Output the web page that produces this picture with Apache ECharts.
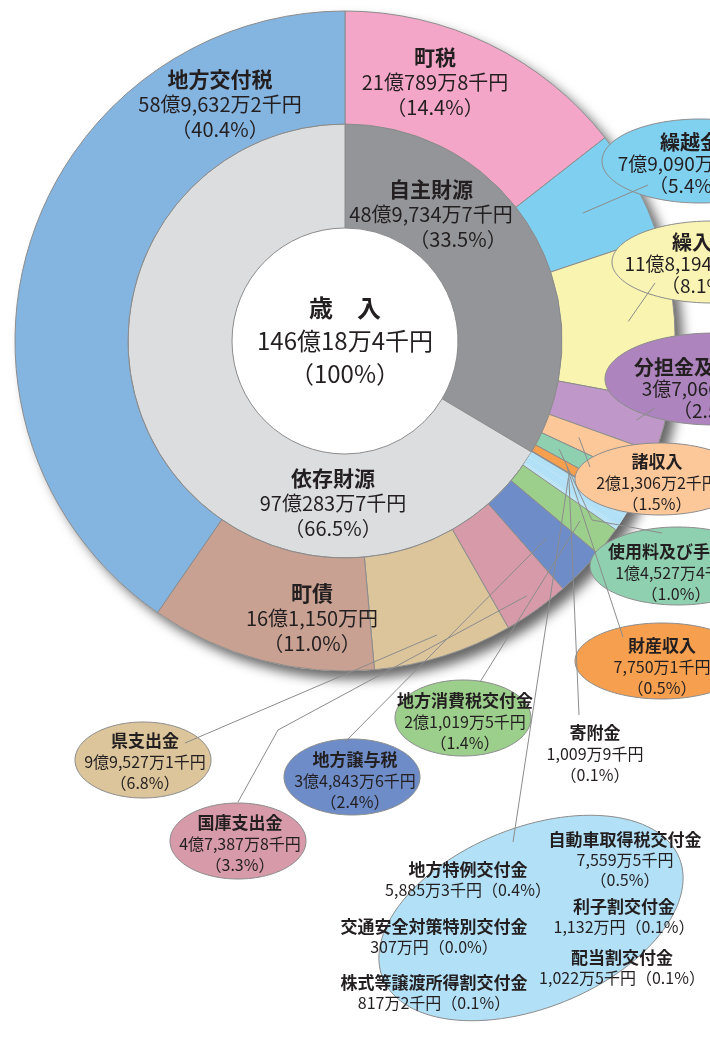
<!DOCTYPE html>
<html lang="ja">
<head>
<meta charset="utf-8">
<title>歳入</title>
<style>
  html, body { margin: 0; padding: 0; background: #fff; }
  #main { width: 710px; height: 1055px; }
</style>
<script src="https://cdn.jsdelivr.net/npm/echarts@6/dist/echarts.min.js"></script>
</head>
<body>
<div id="main"></div>
<script>
// 歳入の内訳（単位：千円）
var outerNames = ['町税', '繰越金', '繰入金', '分担金及び負担金', '諸収入', '使用料及び手数料', '財産収入', '寄附金',
  '地方特例交付金', '自動車取得税交付金', '利子割交付金', '交通安全対策特別交付金', '配当割交付金', '株式等譲渡所得割交付金',
  '地方消費税交付金', '地方譲与税', '国庫支出金', '県支出金', '町債', '地方交付税'];
var outerValues = [2107898, 790903, 1181946, 370664, 213062, 145274, 77501, 10099,
  58853, 75595, 11320, 3070, 10225, 8172,
  210195, 348436, 473878, 995271, 1611500, 5896322];
var outerPcts = [14.4, 5.4, 8.1, 2.5, 1.5, 1.0, 0.5, 0.1,
  0.4, 0.5, 0.1, 0.0, 0.1, 0.1,
  1.4, 2.4, 3.3, 6.8, 11.0, 40.4];

var innerNames = ['自主財源', '依存財源'];
var innerValues = [4897347, 9702837];
var innerPcts = [33.5, 66.5];

var centerTitle = '歳　入';

// 見た目
var CX = 345, CY = 341, R0 = 113, R1 = 217, R2 = 330;
var FONT = '"Noto Sans CJK JP", "Noto Sans CJK SC", sans-serif';
var INK = '#231f20';
var EDGE = '#8c8c8c';

var sliceColor = {
  '町税': '#f4a6c8', '繰越金': '#7fd0f0', '繰入金': '#f9f4b0', '分担金及び負担金': '#bf98c9',
  '諸収入': '#fcc899', '使用料及び手数料': '#8fd0b1', '財産収入': '#f6a04f', '寄附金': '#959595',
  '地方消費税交付金': '#9ccf8c', '地方譲与税': '#6d8cc8', '国庫支出金': '#d69aa8', '県支出金': '#dcc59b',
  '町債': '#c8a192', '地方交付税': '#84b4e0'
};
var groupColor = '#b2e0f6';
var innerColor = ['#939598', '#dcdddf'];

var sizes = { L: [21, 20, 25], M: [20, 19, 22], S: [17, 16, 21], G: [17, 16, 20] };

// ラベル位置・吹き出し（r: 引出線の扇形側の半径、to: 吹き出し側の点）
var place = {
  '町税': { at: [435, 82], st: 'L' },
  '地方交付税': { at: [220, 104], st: 'L' },
  '町債': { at: [312, 618], st: 'L' },
  '繰越金': { at: [690, 164], st: 'M', ell: [700, 161, 98, 42], fill: '#80d0f0', r: 270, to: [[648, 185]] },
  '繰入金': { at: [702, 264], st: 'M', ell: [712, 262, 100, 41], fill: '#f9f4b3', r: 284, to: [[655, 283]] },
  '分担金及び負担金': { at: [714, 389], st: 'M', ell: [714, 379, 109, 46], fill: '#ad84bd', r: 302, to: [[655, 408]] },
  '諸収入': { at: [657, 483], st: 'S', ell: [660, 479, 85, 36], fill: '#fcc89a', r: 253, to: [[590, 467]] },
  '使用料及び手数料': { at: [676, 573], st: 'S', ell: [678, 566, 88, 39], fill: '#8fd0b1', r: 240, to: [[592, 520], [662, 533]] },
  '財産収入': { at: [662, 667], st: 'S', ell: [662, 661, 87, 38], fill: '#f6a04f', r: 255, to: [[623, 637]] },
  '寄附金': { at: [595, 754], st: 'S', r: 260, to: [[579, 715]] },
  '地方特例交付金': { at: [468, 880], st: 'G', one: true, ell: [531, 918, 160, 90, 22], fill: groupColor, r: 262, to: [[513, 842]] },
  '自動車取得税交付金': { at: [625, 860], st: 'G' },
  '利子割交付金': { at: [624, 917], st: 'G', one: true },
  '交通安全対策特別交付金': { at: [434, 937], st: 'G', one: true },
  '配当割交付金': { at: [622, 968], st: 'G', one: true },
  '株式等譲渡所得割交付金': { at: [434, 993], st: 'G', one: true },
  '地方消費税交付金': { at: [465, 722], st: 'S', ell: [463, 718, 68, 38], fill: '#9ccf8c', r: 296, to: [[480, 682]] },
  '地方譲与税': { at: [355, 781], st: 'S', ell: [352, 777, 68, 38], fill: '#6d8cc8', r: 282, to: [[345, 742]] },
  '国庫支出金': { at: [240, 844], st: 'S', ell: [238, 841, 68, 38], fill: '#d69aa8', r: 313, to: [[278, 730], [238, 802]] },
  '県支出金': { at: [145, 762], st: 'S', ell: [143, 760, 68, 38], fill: '#dcc59b', r: 308, to: [[185, 743]] }
};
var innerPlace = [[431, 214], [333, 503]];

// 千円 -> 「○億○万○千円」
function yen(v) {
  var oku = Math.floor(v / 100000);
  var man = Math.floor(v % 100000 / 10);
  var sen = v % 10;
  var s = '';
  if (oku) s += oku + '億';
  if (man) s += man.toLocaleString('en-US') + '万';
  if (sen) s += sen + '千';
  return s + '円';
}
function pctText(p) { return '（' + p.toFixed(1) + '%）'; }

function rich(st) {
  var s = sizes[st];
  return {
    t: { fontSize: s[0], fontWeight: 'bold', lineHeight: s[2], color: INK, fontFamily: FONT },
    v: { fontSize: s[1], lineHeight: s[2], color: INK, fontFamily: FONT },
    p: { fontSize: s[1], lineHeight: s[2], color: INK, fontFamily: FONT },
    q: { fontSize: s[1], lineHeight: s[2], color: INK, fontFamily: FONT, padding: [0, 0, 0, 54] }
  };
}
function labelText(name, v, p, one, pk) {
  if (one) return '{t|' + name + '}\n{v|' + yen(v) + pctText(p) + '}';
  return '{t|' + name + '}\n{v|' + yen(v) + '}\n{' + (pk || 'p') + '|' + pctText(p) + '}';
}

function ellipsePts(e) {
  var rot = (e[4] || 0) * Math.PI / 180, pts = [];
  for (var i = 0; i < 120; i++) {
    var a = i / 120 * Math.PI * 2;
    var x = e[2] * Math.cos(a), y = e[3] * Math.sin(a);
    pts.push([e[0] + x * Math.cos(rot) + y * Math.sin(rot), e[1] - x * Math.sin(rot) + y * Math.cos(rot)]);
  }
  return pts;
}

var total = innerValues[0] + innerValues[1];
var groupNames = outerNames.slice(8, 14);

var chart = echarts.init(document.getElementById('main'));

var outerData = outerNames.map(function (n, i) {
  var grp = groupNames.indexOf(n) >= 0;
  return {
    name: n, value: outerValues[i],
    itemStyle: { color: grp ? groupColor : sliceColor[n], borderWidth: grp ? 0 : 1 }
  };
});

var overlayData = outerNames.map(function (n, i) {
  var p = place[n];
  return {
    name: n, value: outerValues[i],
    label: { show: true, formatter: labelText(n, outerValues[i], outerPcts[i], p.one), rich: rich(p.st) },
    labelLine: { show: !!p.to }
  };
});

var innerData = innerNames.map(function (n, i) {
  return {
    name: n, value: innerValues[i],
    itemStyle: { color: innerColor[i] },
    label: { formatter: labelText(n, innerValues[i], innerPcts[i], false, i === 0 ? 'q' : 'p'), rich: rich('L') }
  };
});

var ellipses = [];
outerNames.forEach(function (n) {
  var p = place[n];
  if (!p.ell) return;
  ellipses.push({
    type: 'polygon', z: 3, silent: true,
    shape: { points: ellipsePts(p.ell) },
    style: { fill: p.fill, stroke: EDGE, lineWidth: 1 }
  });
});

function sliceLayout(seriesIndex, dataIndex) {
  try {
    return chart.getModel().getSeriesByIndex(seriesIndex).getData().getItemLayout(dataIndex);
  } catch (e) { return null; }
}

function outerLabelLayout(params) {
  var p = place[outerNames[params.dataIndex]];
  var out = { x: p.at[0], y: p.at[1], align: 'center', verticalAlign: 'middle' };
  if (p.to) {
    var lay = sliceLayout(params.seriesIndex, params.dataIndex);
    if (lay) {
      var mid = (lay.startAngle + lay.endAngle) / 2;
      out.labelLinePoints = [[lay.cx + p.r * Math.cos(mid), lay.cy + p.r * Math.sin(mid)]].concat(p.to);
    }
  }
  return out;
}

function innerLabelLayout(params) {
  var at = innerPlace[params.dataIndex];
  return { x: at[0], y: at[1], align: 'center', verticalAlign: 'middle' };
}

var common = { type: 'pie', center: [CX, CY], startAngle: 90, clockwise: true, silent: true, animation: false, emphasis: { disabled: true } };

chart.setOption({
  animation: false,
  textStyle: { fontFamily: FONT },
  graphic: { elements: ellipses },
  series: [
    echarts.util.extend({
      z: 1, radius: [0, R2],
      data: [{ name: centerTitle, value: total }],
      itemStyle: { color: '#fff', shadowBlur: 12, shadowOffsetX: 8, shadowOffsetY: 8, shadowColor: 'rgba(0,0,0,0.6)' },
      label: {
        show: true, position: 'center',
        formatter: '{a|' + centerTitle + '}\n{b|' + yen(total) + '}\n{b|（100%）}',
        rich: {
          a: { fontSize: 24, fontWeight: 'bold', lineHeight: 33, color: INK, fontFamily: FONT },
          b: { fontSize: 24, lineHeight: 33, color: INK, fontFamily: FONT }
        }
      },
      labelLine: { show: false }
    }, common),
    echarts.util.extend({
      z: 2, radius: [R0, R1], avoidLabelOverlap: false,
      data: innerData,
      itemStyle: { borderColor: EDGE, borderWidth: 1 },
      label: { show: true, position: 'inside' },
      labelLayout: innerLabelLayout
    }, common),
    echarts.util.extend({
      z: 2, radius: [R1, R2], avoidLabelOverlap: false,
      data: outerData,
      itemStyle: { borderColor: EDGE, borderWidth: 1 },
      label: { show: false }, labelLine: { show: false }
    }, common),
    echarts.util.extend({
      z: 4, radius: [R1, R2], avoidLabelOverlap: false,
      data: overlayData,
      itemStyle: { color: 'rgba(0,0,0,0)', borderWidth: 0 },
      label: { show: true, position: 'outside' },
      labelLine: { show: true, length: 5, length2: 5, lineStyle: { color: EDGE, width: 1 } },
      labelLayout: outerLabelLayout
    }, common)
  ]
});
</script>
</body>
</html>
